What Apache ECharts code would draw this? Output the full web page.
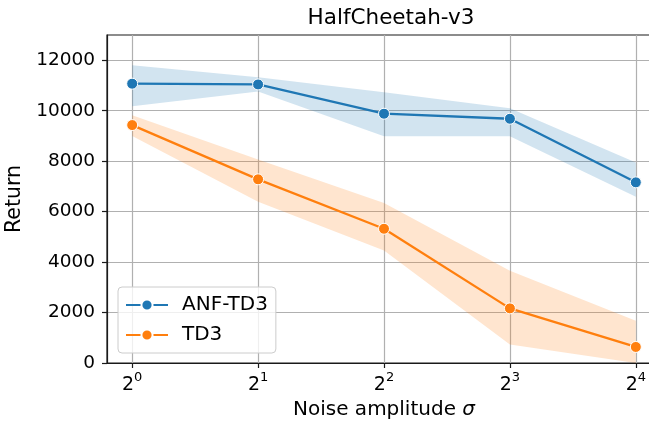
<!DOCTYPE html>
<html>
<head>
<meta charset="utf-8">
<script src="https://cdn.jsdelivr.net/npm/echarts@6/dist/echarts.min.js"></script>
<style>html,body{margin:0;padding:0;background:#fff}#c{width:649px;height:421px}</style>
</head>
<body>
<div id="c"></div>
<script>
// Data (x = exponent k for sigma = 2^k)
const xExponents = [0, 1, 2, 3, 4];
const xTickLabels = ['0', '1', '2', '3', '4'];
const anfMean = [11070, 11040, 9880, 9680, 7160];
const anfLow  = [10180, 10760, 8990, 8990, 6590];
const anfHigh = [11800, 11330, 10730, 10100, 7950];
const td3Mean = [9430, 7280, 5320, 2165, 636];
const td3Low  = [9000, 6395, 4455, 730, 0];
const td3High = [9820, 8070, 6340, 3660, 1670];
const yTicks = [0, 2000, 4000, 6000, 8000, 10000, 12000];

const FONT = 'DejaVu Sans';
const BLUE = '#1f77b4', ORANGE = '#ff7f0e';

function pairs(vals) { return xExponents.map((x, i) => [x, vals[i]]); }

function bandSeries(lo, hi, color) {
  const data = xExponents.map((x, i) => [x, lo[i], hi[i]]);
  return {
    type: 'custom', silent: true, z: 1, clip: true,
    encode: { x: 0, y: [1, 2] },
    data: data,
    renderItem: function (params, api) {
      if (params.dataIndex !== 0) return null;
      const top = data.map(d => api.coord([d[0], d[2]]));
      const bot = data.slice().reverse().map(d => api.coord([d[0], d[1]]));
      return { type: 'polygon', shape: { points: top.concat(bot) },
        style: { fill: color, stroke: null } };
    }
  };
}

function meanSeries(name, vals, color) {
  return { name: name, type: 'line', data: pairs(vals), symbol: 'circle', symbolSize: 11,
    lineStyle: { color: color, width: 2.3 },
    itemStyle: { color: color, borderColor: '#fff', borderWidth: 1 }, z: 3 };
}

const chart = echarts.init(document.getElementById('c'), null, { renderer: 'canvas' });
chart.setOption({
  animation: false,
  backgroundColor: '#fff',
  textStyle: { fontFamily: FONT },
  title: { text: 'HalfCheetah-v3', left: 386, top: 2, textAlign: 'center',
    textStyle: { fontFamily: FONT, fontSize: 21.5, fontWeight: 'normal', color: '#000' } },
  legend: {
    orient: 'vertical', left: 118, top: 287, data: ['ANF-TD3', 'TD3'],
    itemWidth: 42, itemHeight: 14, itemGap: 10, padding: [8, 8, 8, 7],
    backgroundColor: 'rgba(255,255,255,0.8)', borderColor: '#cccccc', borderWidth: 1, borderRadius: 4,
    textStyle: { fontFamily: FONT, fontSize: 20, color: '#000', padding: [0, 0, 0, 9] }
  },
  grid: { left: 107, top: 35, width: 554, height: 328, show: true, containLabel: false,
    outerBoundsMode: 'none',
    borderColor: '#1a1a1a', borderWidth: 1.2, backgroundColor: 'transparent' },
  xAxis: {
    type: 'value', min: -0.2, max: 4.2,
    name: 'Noise amplitude {i|σ}', nameLocation: 'middle', nameGap: 34,
    nameTextStyle: { fontFamily: FONT, fontSize: 20, color: '#000',
      rich: { i: { fontFamily: FONT, fontSize: 20, fontStyle: 'italic', color: '#000' } } },
    axisLine: { show: true, onZero: false, lineStyle: { color: '#1a1a1a', width: 1.2 } },
    axisTick: { show: true, length: 5, customValues: xExponents, lineStyle: { color: '#1a1a1a', width: 1.2 } },
    axisLabel: { customValues: xExponents, margin: 8, hideOverlap: false,
      formatter: v => '{b|2}{s|' + xTickLabels[xExponents.indexOf(v)] + '}',
      rich: {
        b: { fontFamily: FONT, fontSize: 19, color: '#000', verticalAlign: 'bottom', lineHeight: 24 },
        s: { fontFamily: FONT, fontSize: 13, color: '#000', verticalAlign: 'top', lineHeight: 13 }
      } },
    splitLine: { show: true, lineStyle: { color: '#b0b0b0', width: 1.2 } }
  },
  yAxis: {
    type: 'value', min: 0, max: 13000, interval: 2000,
    name: 'Return', nameLocation: 'middle', nameGap: 76, nameRotate: 90,
    nameTextStyle: { fontFamily: FONT, fontSize: 20.5, color: '#000' },
    axisLine: { show: true, onZero: false, lineStyle: { color: '#1a1a1a', width: 1.2 } },
    axisTick: { show: true, length: 5, customValues: yTicks, lineStyle: { color: '#1a1a1a', width: 1.2 } },
    axisLabel: { customValues: yTicks, margin: 12, fontFamily: FONT, fontSize: 18.5, color: '#000',
      formatter: v => String(v) },
    splitLine: { show: true, lineStyle: { color: '#b0b0b0', width: 1.2 } }
  },
  series: [
    bandSeries(anfLow, anfHigh, 'rgba(31,119,180,0.2)'),
    bandSeries(td3Low, td3High, 'rgba(255,127,14,0.2)'),
    meanSeries('ANF-TD3', anfMean, BLUE),
    meanSeries('TD3', td3Mean, ORANGE)
  ]
});
</script>
</body>
</html>
